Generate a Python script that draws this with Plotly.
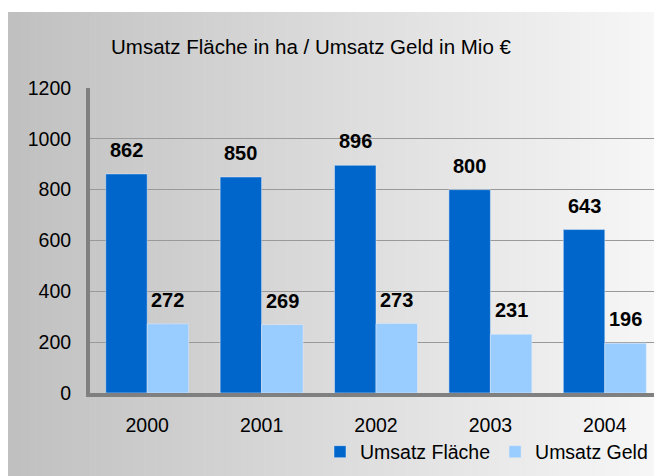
import plotly.graph_objects as go

years = ["2000", "2001", "2002", "2003", "2004"]
flaeche = [862, 850, 896, 800, 643]
geld = [272, 269, 273, 231, 196]

title_text = "Umsatz Fläche in ha / Umsatz Geld in Mio €"

# page has an 8px body margin, so the figure is a bit smaller than the window
W, H = 654, 468
ML, MR, MT, MB = 82, 0, 80, 83
pw = W - ML - MR
ph = H - MT - MB


def px_x(p):
    return (p - ML) / pw


def px_y(p):
    return (H - MB - p) / ph


fig = go.Figure()

fig.add_trace(go.Bar(x=years, y=flaeche, name="Umsatz Fläche", marker_color="#0066cc"))
fig.add_trace(go.Bar(x=years, y=geld, name="Umsatz Geld", marker_color="#99ccff"))

# grey horizontal gradient behind everything
shapes = []
n = 120
x0, x1 = 0, W
for i in range(n):
    a = x0 + (x1 - x0) * i / n
    b = x0 + (x1 - x0) * (i + 1) / n + 0.6
    t = i / (n - 1)
    c = int(round(192 + (247 - 192) * t))
    shapes.append(dict(type="rect", xref="paper", yref="paper",
                       x0=px_x(a), x1=px_x(b), y0=px_y(H), y1=px_y(4),
                       fillcolor=f"rgb({c},{c},{c})", line_width=0, layer="below"))

half = 0.725 / 4  # offset of each bar centre in category units
label_font = dict(size=20, color="black", family="Liberation Sans, Arial, sans-serif")
annotations = []
for i, y in enumerate(years):
    annotations.append(dict(x=i - half, y=flaeche[i], text=f"<b>{flaeche[i]}</b>",
                            showarrow=False, yanchor="middle", yshift=24, font=label_font))
    annotations.append(dict(x=i + half, y=geld[i], text=f"<b>{geld[i]}</b>",
                            showarrow=False, yanchor="middle", yshift=24, font=label_font))

annotations.append(dict(xref="paper", yref="paper", x=px_x(101), y=px_y(39),
                        xanchor="left", yanchor="middle", showarrow=False,
                        text=title_text, font=dict(size=20.5, color="black")))

fig.update_layout(
    width=W, height=H,
    margin=dict(l=ML, r=MR, t=MT, b=MB),
    paper_bgcolor="white",
    plot_bgcolor="rgba(0,0,0,0)",
    font=dict(family="Liberation Sans, Arial, sans-serif", size=19.5, color="black"),
    barmode="group",
    bargap=0.275,
    bargroupgap=0,
    shapes=shapes,
    annotations=annotations,
    showlegend=True,
    legend=dict(orientation="h", x=px_x(645), xanchor="right", y=px_y(444), yanchor="middle",
                bgcolor="rgba(0,0,0,0)", font=dict(size=19.5), itemwidth=30,
                tracegroupgap=0),
    xaxis=dict(type="category", showline=True, linecolor="#808080", linewidth=4,
               ticks="", ticklabelstandoff=12, showgrid=False, range=[-0.5, 4.5]),
    yaxis=dict(range=[0, 1200], dtick=200, showline=True, linecolor="#808080", linewidth=4,
               gridcolor="#999999", gridwidth=1, ticks="", ticklabelstandoff=11,
               zeroline=False, showgrid=True),
)

fig.write_html("out.html")
